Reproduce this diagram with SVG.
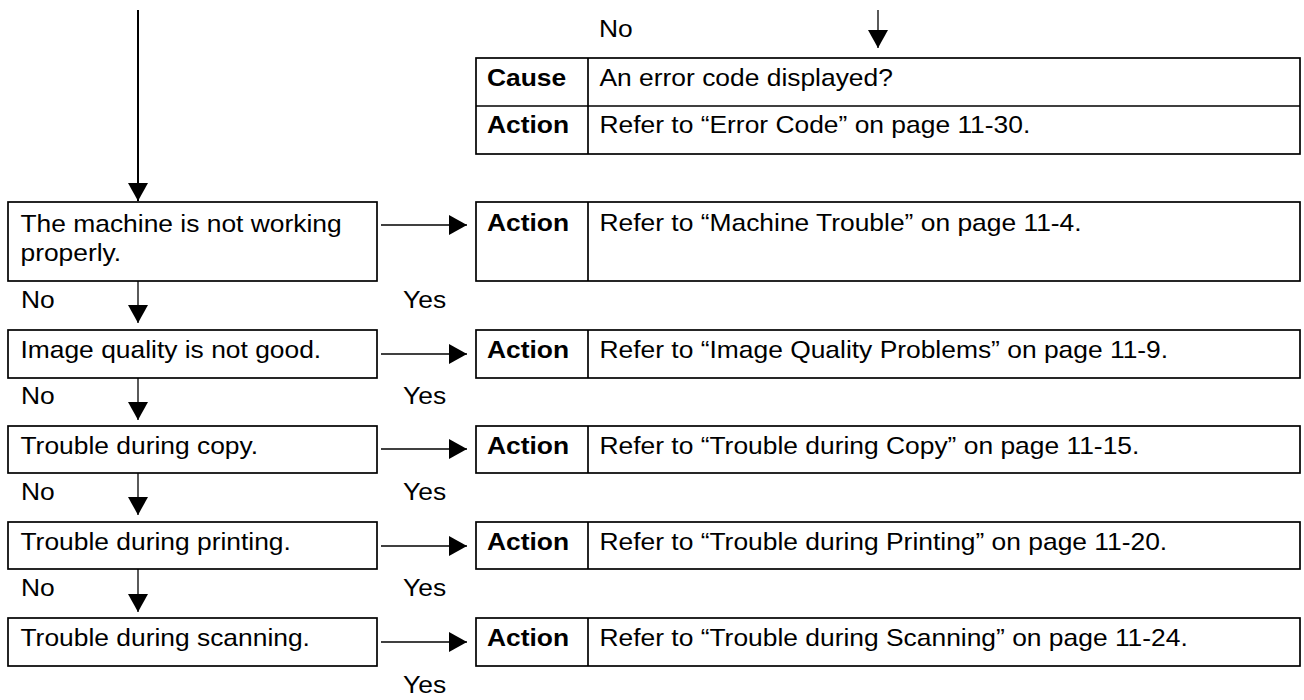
<svg xmlns="http://www.w3.org/2000/svg" width="1304" height="700" viewBox="0 0 1304 700">
<style>
  .box{fill:#fff;stroke:#000;stroke-width:1.7}
  .div{stroke:#000;stroke-width:1.7}
  .t{font-family:"Liberation Sans",Arial,Helvetica,sans-serif;font-size:24px;fill:#000}
  .b{font-weight:bold}
  .c{stroke:#000;stroke-width:1.3;fill:none}
  .c2{stroke:#000;stroke-width:2;fill:none}
</style>
<defs>
  <marker id="ah" markerUnits="userSpaceOnUse" markerWidth="18" markerHeight="20" refX="18" refY="10" orient="auto">
    <path d="M0,0 L18,10 L0,20 Z" fill="#000"/>
  </marker>
</defs>
<rect width="1304" height="700" fill="#fff"/>

<g id="connectors">
  <line class="c2" x1="138" y1="10" x2="138" y2="201" marker-end="url(#ah)"/>
  <line class="c" x1="878" y1="10" x2="878" y2="48" marker-end="url(#ah)"/>
  <line class="c" x1="138" y1="281" x2="138" y2="323" marker-end="url(#ah)"/>
  <line class="c" x1="138" y1="378" x2="138" y2="420" marker-end="url(#ah)"/>
  <line class="c" x1="138" y1="473" x2="138" y2="515" marker-end="url(#ah)"/>
  <line class="c" x1="138" y1="569" x2="138" y2="612" marker-end="url(#ah)"/>
  <line class="c" x1="381" y1="225" x2="467" y2="225" marker-end="url(#ah)"/>
  <line class="c" x1="381" y1="354" x2="467" y2="354" marker-end="url(#ah)"/>
  <line class="c" x1="381" y1="449" x2="467" y2="449" marker-end="url(#ah)"/>
  <line class="c" x1="381" y1="546" x2="467" y2="546" marker-end="url(#ah)"/>
  <line class="c" x1="381" y1="642" x2="467" y2="642" marker-end="url(#ah)"/>
  <g id="labels">
    <text class="t" transform="scale(1.1 1)" x="544.5" y="37">No</text>
    <text class="t" transform="scale(1.1 1)" x="19.1" y="308">No</text>
    <text class="t" transform="scale(1.1 1)" x="19.1" y="404">No</text>
    <text class="t" transform="scale(1.1 1)" x="19.1" y="500">No</text>
    <text class="t" transform="scale(1.1 1)" x="19.1" y="596">No</text>
    <text class="t" transform="scale(1.1 1)" x="366.4" y="308">Yes</text>
    <text class="t" transform="scale(1.1 1)" x="366.4" y="404">Yes</text>
    <text class="t" transform="scale(1.1 1)" x="366.4" y="500">Yes</text>
    <text class="t" transform="scale(1.1 1)" x="366.4" y="596">Yes</text>
    <text class="t" transform="scale(1.1 1)" x="366.4" y="693">Yes</text>
  </g>
</g>

<g id="error-code">
  <rect class="box" x="476" y="58" width="824" height="96"/>
  <line class="div" x1="476" y1="106" x2="1300" y2="106"/>
  <line class="div" x1="588" y1="58" x2="588" y2="154"/>
  <text class="t b" transform="scale(1.1 1)" x="442.7" y="86">Cause</text>
  <text class="t" transform="scale(1.1 1)" x="545" y="86">An error code displayed?</text>
  <text class="t b" transform="scale(1.1 1)" x="442.7" y="133">Action</text>
  <text class="t" transform="scale(1.1 1)" x="545" y="133">Refer to “Error Code” on page 11-30.</text>
</g>

<g id="q-machine">
  <rect class="box" x="8" y="202" width="369" height="79"/>
  <text class="t" transform="scale(1.1 1)" x="18.6" y="232">The machine is not working</text>
  <text class="t" transform="scale(1.1 1)" x="18.6" y="261">properly.</text>
</g>
<g id="a-machine">
  <rect class="box" x="476" y="202" width="824" height="79"/>
  <line class="div" x1="588" y1="202" x2="588" y2="281"/>
  <text class="t b" transform="scale(1.1 1)" x="442.7" y="231">Action</text>
  <text class="t" transform="scale(1.1 1)" x="545" y="231">Refer to “Machine Trouble” on page 11-4.</text>
</g>

<g id="q-image">
  <rect class="box" x="8" y="330" width="369" height="48"/>
  <text class="t" transform="scale(1.1 1)" x="18.6" y="358">Image quality is not good.</text>
</g>
<g id="a-image">
  <rect class="box" x="476" y="330" width="824" height="48"/>
  <line class="div" x1="588" y1="330" x2="588" y2="378"/>
  <text class="t b" transform="scale(1.1 1)" x="442.7" y="358">Action</text>
  <text class="t" transform="scale(1.1 1)" x="545" y="358">Refer to “Image Quality Problems” on page 11-9.</text>
</g>

<g id="q-copy">
  <rect class="box" x="8" y="426" width="369" height="47"/>
  <text class="t" transform="scale(1.1 1)" x="18.6" y="454">Trouble during copy.</text>
</g>
<g id="a-copy">
  <rect class="box" x="476" y="426" width="824" height="47"/>
  <line class="div" x1="588" y1="426" x2="588" y2="473"/>
  <text class="t b" transform="scale(1.1 1)" x="442.7" y="454">Action</text>
  <text class="t" transform="scale(1.1 1)" x="545" y="454">Refer to “Trouble during Copy” on page 11-15.</text>
</g>

<g id="q-print">
  <rect class="box" x="8" y="522" width="369" height="47"/>
  <text class="t" transform="scale(1.1 1)" x="18.6" y="550">Trouble during printing.</text>
</g>
<g id="a-print">
  <rect class="box" x="476" y="522" width="824" height="47"/>
  <line class="div" x1="588" y1="522" x2="588" y2="569"/>
  <text class="t b" transform="scale(1.1 1)" x="442.7" y="550">Action</text>
  <text class="t" transform="scale(1.1 1)" x="545" y="550">Refer to “Trouble during Printing” on page 11-20.</text>
</g>

<g id="q-scan">
  <rect class="box" x="8" y="618" width="369" height="48"/>
  <text class="t" transform="scale(1.1 1)" x="18.6" y="646">Trouble during scanning.</text>
</g>
<g id="a-scan">
  <rect class="box" x="476" y="618" width="824" height="48"/>
  <line class="div" x1="588" y1="618" x2="588" y2="666"/>
  <text class="t b" transform="scale(1.1 1)" x="442.7" y="646">Action</text>
  <text class="t" transform="scale(1.1 1)" x="545" y="646">Refer to “Trouble during Scanning” on page 11-24.</text>
</g>
</svg>
